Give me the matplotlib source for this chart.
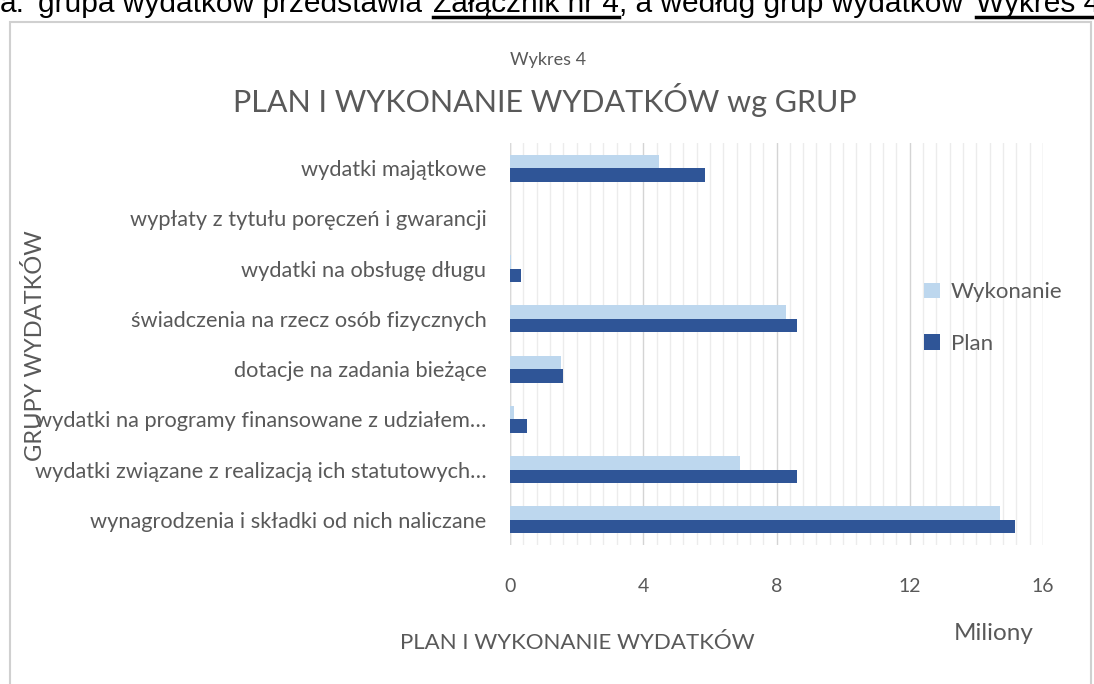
import matplotlib
matplotlib.use("Agg")
import matplotlib.pyplot as plt
from matplotlib.patches import Rectangle
from matplotlib.ticker import MultipleLocator

plt.rcParams['font.family'] = ['Lato', 'DejaVu Sans']

# grupy wydatków, od dołu do góry (w milionach zł)
groups = [
    "wynagrodzenia i składki od nich naliczane",
    "wydatki związane z realizacją ich statutowych…",
    "wydatki na programy finansowane z udziałem…",
    "dotacje na zadania bieżące",
    "świadczenia na rzecz osób fizycznych",
    "wydatki na obsługę długu",
    "wypłaty z tytułu poręczeń i gwarancji",
    "wydatki majątkowe",
]
plan = [15.17, 8.63, 0.51, 1.59, 8.63, 0.32, 0.0, 5.86]
wykonanie = [14.72, 6.90, 0.12, 1.54, 8.28, 0.03, 0.0, 4.48]
x_ticks = [0, 4, 8, 12, 16]

# fragment tekstu dokumentu nad wykresem: (tekst, start x w px lub None = dalej, podkreślenie)
doc_parts = [
    ("a.", 0, False),
    ("grupa wydatków przedstawia", 38, False),
    ("Załącznik nr 4", 433, True),
    (", a według grup wydatków", None, False),
    ("Wykres 4", 976, True),
]

W, H = 1094, 684
fig = plt.figure(figsize=(W / 100, H / 100), dpi=100)
gray = "#595959"


def px(x, y):
    return x / W, 1 - y / H


# ramka wykresu
fig.patches.append(Rectangle(px(10, 700), 1081 / W, 678 / H, transform=fig.transFigure,
                             fill=False, edgecolor="#d0d0d0", linewidth=1.5))

# ucięty tekst dokumentu nad wykresem
renderer = fig.canvas.get_renderer()
x0 = 0
for txt, start, underline in doc_parts:
    if start is not None:
        x0 = start
    tt = fig.text(*px(x0, 12), txt, fontsize=21.5, family=['Liberation Sans', 'DejaVu Sans'],
                  color="black", va="baseline")
    w = tt.get_window_extent(renderer).width
    if underline:
        fig.lines.append(plt.Line2D([px(x0, 0)[0], px(x0 + w, 0)[0]], [px(0, 17)[1]] * 2,
                                    transform=fig.transFigure, color="black", linewidth=2.5))
    x0 += w

l, r = px(510, 0)[0], px(1043, 0)[0]
b, t = px(0, 545)[1], px(0, 143)[1]
ax = fig.add_axes([l, b, r - l, t - b])

pos = range(len(groups))
h = 0.27
ax.barh([p - h / 2 for p in pos], plan, height=h, color="#2f5597", label="Plan", zorder=3)
ax.barh([p + h / 2 for p in pos], wykonanie, height=h, color="#bdd7ee", label="Wykonanie", zorder=3)

ax.set_xlim(0, 16)
ax.set_ylim(-0.5, len(groups) - 0.5)
ax.set_xticks(x_ticks)
ax.xaxis.set_minor_locator(MultipleLocator(0.4))
ax.grid(axis="x", which="minor", color="#ececec", linewidth=1, zorder=0)
ax.grid(axis="x", which="major", color="#d4d4d4", linewidth=1, zorder=1)
for s in ax.spines.values():
    s.set_visible(False)
ax.axvline(0, color="#d9d9d9", linewidth=1, zorder=2)
ax.set_yticks(list(pos))
ax.set_yticklabels(groups, fontsize=15.7, color=gray)
ax.tick_params(axis="y", length=0, pad=17)
ax.tick_params(axis="x", which="both", length=0, labelsize=14, labelcolor=gray, pad=24)

fig.text(*px(548, 60), "Wykres 4", ha="center", va="center", fontsize=13, color=gray)
fig.text(*px(545, 100), "PLAN I WYKONANIE WYDATKÓW wg GRUP", ha="center", va="center",
         fontsize=22, color=gray)
fig.text(*px(35, 346), "GRUPY WYDATKÓW", rotation=90, ha="center", va="center",
         fontsize=17, color=gray)
fig.text(*px(577, 643), "PLAN I WYKONANIE WYDATKÓW", ha="center", va="center",
         fontsize=16, color=gray)
fig.text(*px(994, 633), "Miliony", ha="center", va="center", fontsize=17.5, color=gray)

handles, labels = ax.get_legend_handles_labels()
fig.legend(handles[::-1], labels[::-1], loc="center left", bbox_to_anchor=px(904, 318),
           frameon=False, fontsize=16, labelcolor=gray, handlelength=0.7, handleheight=0.7,
           handletextpad=0.5, labelspacing=1.4)

fig.savefig("out.png", dpi=100)
